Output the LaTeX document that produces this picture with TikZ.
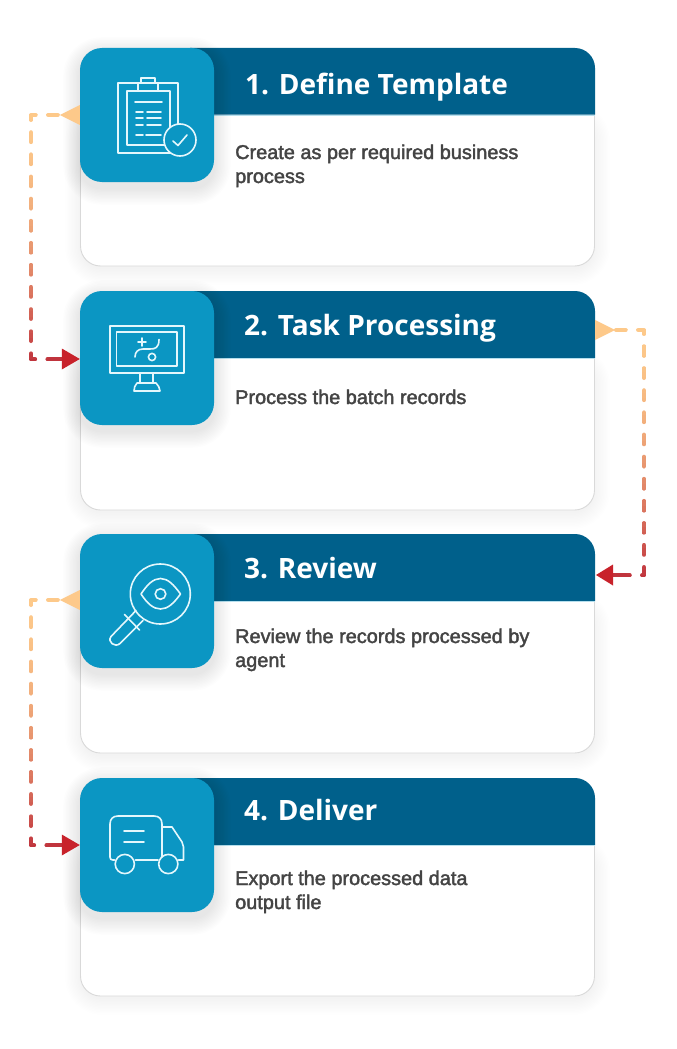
\documentclass[tikz,border=0pt]{standalone}
\usepackage{fontspec}
\newfontfamily\titlefont{Open Sans}
\newfontfamily\bodyfont[FakeBold=2]{Liberation Sans}
\usetikzlibrary{calc}
\definecolor{headblue}{HTML}{00608B}
\definecolor{iconblue}{HTML}{0B96C3}
\definecolor{iconline}{HTML}{E4F7FC}
\definecolor{cardline}{HTML}{D9D9D9}
\definecolor{bodygray}{HTML}{444444}
\definecolor{flowstart}{HTML}{FDC98A}
\definecolor{flowend}{HTML}{C0343D}
\definecolor{tipend}{HTML}{C8222B}
\tikzset{
  iconbox/.style={rectangle,rounded corners=22pt,fill=iconblue,minimum width=134pt,minimum height=134pt,inner sep=0pt},
  cardbox/.style={draw=cardline,line width=0.9pt,fill=white,rounded corners=20pt},
  headbox/.style={fill=headblue},
  titletext/.style={anchor=base west,inner sep=0pt,text=white,font=\titlefont\bfseries\fontsize{28}{32}\selectfont},
  bodytext/.style={anchor=base west,inner sep=0pt,text=bodygray,align=left,font=\bodyfont\fontsize{19.9}{24}\selectfont},
  flowline/.style={line width=4pt,line cap=round,line join=round,dash pattern=on 9.7pt off 12.4pt},
  iconstroke/.style={draw=iconline,line width=1.6pt,line cap=round,line join=round},
}
% x1 y1 x2 y2 radius opacity
\newcommand{\softshadow}[6]{%
  \foreach \s in {1,...,12}{%
    \fill[black,opacity=#6,rounded corners=#5+\s*1.4pt]
      (#1-\s*1.4,#2-\s*1.4+6) rectangle (#3+\s*1.4,#4+\s*1.4+6);
  }}
\newcommand{\gradpath}[3]{%
  \foreach \i in {0,...,47}{%
    \pgfmathsetmacro\ya{#1-6+(#2-#1+12)*\i/48}
    \pgfmathsetmacro\yb{#1-6+(#2-#1+12)*(\i+1)/48+0.4}
    \pgfmathsetmacro\mixv{100*(\i/47)^1.8}
    \begin{scope}
      \clip (0,\ya) rectangle (677,\yb);
      \draw[flowline,color=flowend!\mixv!flowstart] #3;
    \end{scope}
  }}
% #1 name #2 top #3 header bottom #4 card bottom
\newcommand{\stepcard}[4]{%
  \softshadow{82}{#3}{593}{#4-4}{20pt}{0.0025}
  \draw[cardbox] (80.5,#3-20) rectangle (594.5,#4);
  \fill[headbox] (190,#2) -- (575,#2) .. controls (586,#2) and (595,#2+9) .. (595,#2+20) -- (595,#3) -- (190,#3) -- cycle;
  \draw[line width=0.8pt,draw=white!70!iconblue] (214,#3+0.4) -- (594.5,#3+0.4);
  \softshadow{80}{#2}{214}{#2+134}{22pt}{0.007}
  \node[iconbox] (#1) at (147,#2+67) {};
}
\begin{document}
\begin{tikzpicture}[x=1pt,y=-1pt]
\useasboundingbox (0,0) rectangle (677,1049);
\fill[white] (0,0) rectangle (677,1049);

\stepcard{icona}{48}{114.5}{266}
\stepcard{iconb}{291}{358}{510}
\stepcard{iconc}{534}{601}{753}
\stepcard{icond}{778}{845}{996}

\node[titletext] (ta) at (245,94) {1. Define Template};
\node[titletext] (tb) at (244,335) {2. Task Processing};
\node[titletext] (tc) at (244,578) {3. Review};
\node[titletext] (td) at (244,820) {4. Deliver};

\node[bodytext] (ba) at (235,183) {Create as per required business\\process};
\node[bodytext] (bb) at (235,404) {Process the batch records};
\node[bodytext] (bc) at (235,667) {Review the records processed by\\agent};
\node[bodytext] (bd) at (235,909) {Export the processed data\\output file};

% connectors
\coordinate (s1) at ($(icona.west)+(-22,0)$);
\coordinate (k1a) at (31,115);
\coordinate (k1b) at (31,359);
\coordinate (e1) at (58,359);
\gradpath{115}{359}{(s1) -- (k1a) -- (k1b) -- (e1)}
\fill[flowstart] (icona.west) ++(0,-10) -- ++(-20,10) -- ++(20,10) -- cycle;
\draw[line width=4pt,line cap=round,color=flowend] (50,359) -- (64,359);
\fill[tipend] (iconb.west) ++(0,1) -- ++(-18,-10.5) -- ++(0,21) -- cycle;

\coordinate (s2) at (616,330);
\coordinate (k2a) at (644,330);
\coordinate (k2b) at (644,575);
\coordinate (e2) at (618,575);
\gradpath{330}{575}{(s2) -- (k2a) -- (k2b) -- (e2)}
\fill[flowstart] (595,320) -- (615,330) -- (595,340) -- cycle;
\draw[line width=4pt,line cap=round,color=flowend] (625,575) -- (611,575);
\fill[tipend] (596,575) -- (613,564.5) -- (613,585.5) -- cycle;

\coordinate (s3) at ($(iconc.west)+(-22,-1)$);
\coordinate (k3a) at (31,600);
\coordinate (k3b) at (31,845);
\coordinate (e3) at (58,845);
\gradpath{600}{845}{(s3) -- (k3a) -- (k3b) -- (e3)}
\fill[flowstart] (iconc.west) ++(0,-11) -- ++(-20,10) -- ++(20,10) -- cycle;
\draw[line width=4pt,line cap=round,color=flowend] (50,845) -- (64,845);
\fill[tipend] (icond.west) -- ++(-18,-10.5) -- ++(0,21) -- cycle;

% icon 1: clipboard
\draw[iconstroke] (138,83) -- (118,83) -- (118,153) -- (178,153) -- (178,83) -- (158,83);
\draw[iconstroke] (138,91) rectangle (158,83);
\draw[iconstroke] (141,83) -- (141,78) -- (155,78) -- (155,83);
\draw[iconstroke] (127,91) rectangle (170,145);
\draw[iconstroke] (135,102) -- (162,102);
\foreach \yy/\xx in {112/147,118/147,125/147,135/146}{
  \draw[iconstroke] (136,\yy) -- (143,\yy);
  \draw[iconstroke] (\xx,\yy) -- (161,\yy);
}
\draw[iconstroke,fill=iconblue] (180,140) circle[radius=16];
\draw[iconstroke] (173,141) -- (178,145.5) -- (187,135);

% icon 2: monitor
\draw[iconstroke] (110,326) rectangle (184,373);
\draw[iconstroke] (116.5,332) rectangle (177,366);
\draw[iconstroke] (138,342) -- (146,342);
\draw[iconstroke] (142,338) -- (142,346);
\draw[iconstroke] (159,339.5) .. controls (159,348) and (155,349) .. (150,349) -- (143,349) .. controls (138,349) and (135,352) .. (135,357);
\draw[iconstroke] (152,357) circle[radius=3.6];
\draw[iconstroke] (140,373) -- (140,383);
\draw[iconstroke] (153,373) -- (153,383);
\draw[iconstroke] (137,383) -- (156,383) .. controls (158,385) and (160,388) .. (160,391) -- (134,391) .. controls (134,388) and (135,385) .. (137,383);

% icon 3: magnifier with eye
\draw[iconstroke] (160.3,594) circle[radius=30];
\draw[iconstroke] (141,594) .. controls (147,585) and (153,578.5) .. (160.5,578.5) .. controls (168,578.5) and (174,585) .. (180.5,594) .. controls (174,603) and (168,609) .. (160.5,609) .. controls (153,609) and (147,603) .. (141,594) -- cycle;
\draw[iconstroke] (160.5,594) circle[radius=5.3];
\draw[iconstroke] (136,610.5) -- (111,636.5) .. controls (107,642) and (115,648) .. (120,643.5) -- (143,620.5);
\draw[iconstroke] (124.5,614.5) -- (139.5,630);

% icon 4: truck
\draw[iconstroke] (114.5,860) -- (113,860) .. controls (111,860) and (110,859) .. (110,857) -- (110,824) .. controls (110,819) and (113,816) .. (118,816) -- (154,816) .. controls (159,816) and (162,819) .. (162,824) -- (162,857);
\draw[iconstroke] (135.5,860) -- (158,860);
\draw[iconstroke] (162,827) -- (172,827) -- (182,842) .. controls (183,844) and (183.5,845) .. (183.5,847) -- (183.5,860) -- (178.5,860);
\draw[iconstroke] (124,831) -- (144,831);
\draw[iconstroke] (124,842) -- (144,842);
\draw[iconstroke] (124.8,864) circle[radius=9.6];
\draw[iconstroke] (168.3,864) circle[radius=9.6];
\end{tikzpicture}
\end{document}
